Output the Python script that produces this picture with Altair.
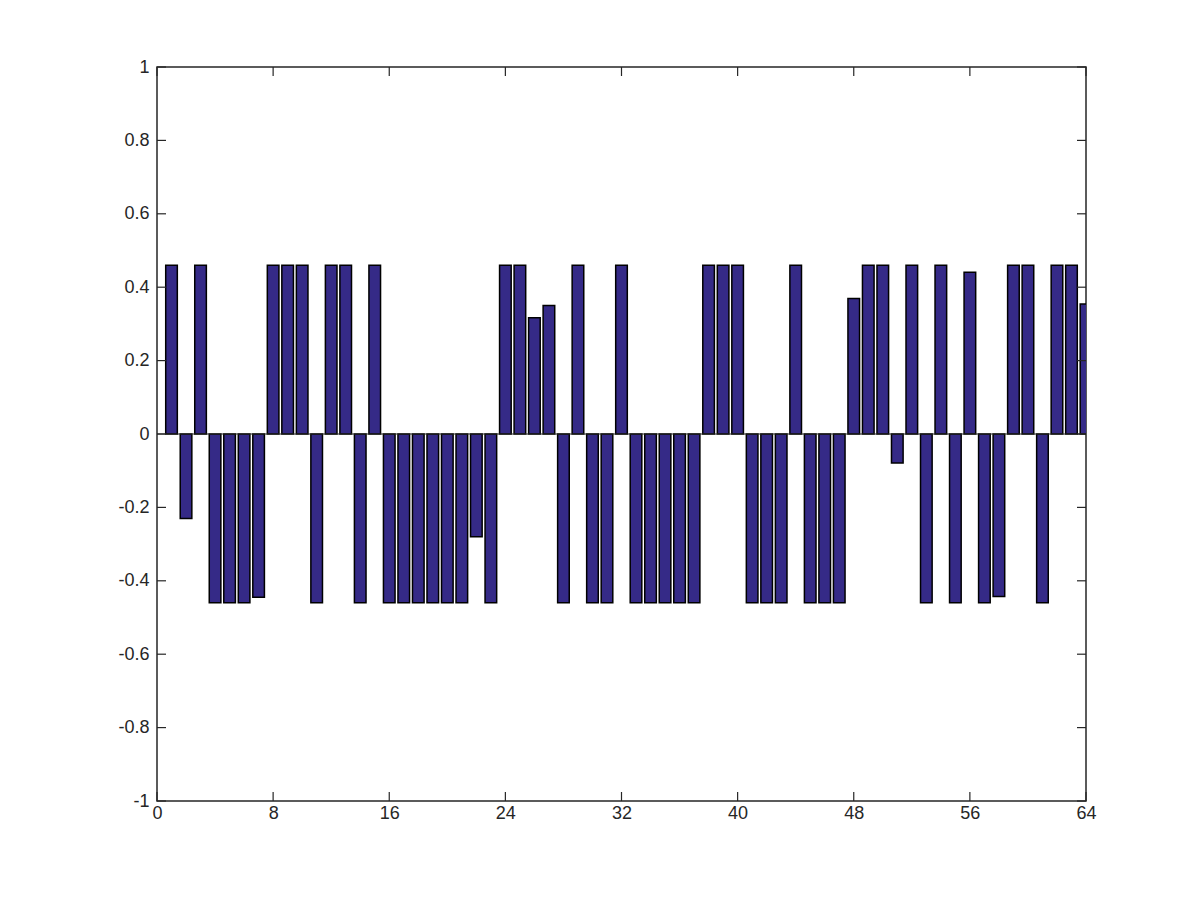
import altair as alt
import pandas as pd

idx = list(range(1, 65))
values = [
    0.46, -0.23, 0.46, -0.46, -0.46, -0.46, -0.445, 0.46,
    0.46, 0.46, -0.46, 0.46, 0.46, -0.46, 0.46, -0.46,
    -0.46, -0.46, -0.46, -0.46, -0.46, -0.28, -0.46, 0.46,
    0.46, 0.317, 0.35, -0.46, 0.46, -0.46, -0.46, 0.46,
    -0.46, -0.46, -0.46, -0.46, -0.46, 0.46, 0.46, 0.46,
    -0.46, -0.46, -0.46, 0.46, -0.46, -0.46, -0.46, 0.369,
    0.46, 0.46, -0.079, 0.46, -0.46, 0.46, -0.46, 0.441,
    -0.46, -0.443, 0.46, 0.46, -0.46, 0.46, 0.46, 0.354,
]
xticks = [0, 8, 16, 24, 32, 40, 48, 56, 64]
yticks = [-1, -0.8, -0.6, -0.4, -0.2, 0, 0.2, 0.4, 0.6, 0.8, 1]

W, H = 929, 734
TL = 9
INK = "#262626"
FONT = "Liberation Sans"
FS = 18

df = pd.DataFrame({"i": idx, "v": values})
xt = pd.DataFrame({"t": xticks})
yt = pd.DataFrame({"t": yticks})

xscale = alt.Scale(domain=[0, 64], nice=False, zero=False)
yscale = alt.Scale(domain=[-1, 1], nice=False, zero=False)

xaxis = alt.Axis(values=xticks, title=None, grid=False, domain=False, ticks=False,
                 labelFlush=False, labelPadding=3, labelFontSize=FS, labelColor=INK,
                 labelFont=FONT, labelExpr="format(datum.value, 'd')")
yaxis = alt.Axis(values=yticks, title=None, grid=False, domain=False, ticks=False,
                 labelFlush=False, labelPadding=8, labelFontSize=FS, labelColor=INK,
                 labelFont=FONT,
                 labelExpr="datum.value == 0 ? '0' : replace(format(datum.value, '.1~f'), '\u2212', '-')")

bars = alt.Chart(df).transform_calculate(
    x0="datum.i - 0.4", x1="datum.i + 0.4", base="0"
).mark_bar(color="#352a87", stroke="#000000", strokeWidth=1.5, clip=True).encode(
    x=alt.X("x0:Q", scale=xscale, axis=xaxis),
    x2="x1:Q",
    y=alt.Y("v:Q", scale=yscale, axis=yaxis),
    y2="base:Q",
)

baseline = alt.Chart(pd.DataFrame({"b": [0]})).mark_rule(color=INK, strokeWidth=1.2).encode(
    y=alt.Y("b:Q", scale=yscale, axis=yaxis), x=alt.value(0), x2=alt.value(W)
)

xb = alt.Chart(xt).mark_rule(color=INK, strokeWidth=1.2).encode(
    x=alt.X("t:Q", scale=xscale, axis=xaxis), y=alt.value(H), y2=alt.value(H - TL))
xtop = alt.Chart(xt).mark_rule(color=INK, strokeWidth=1.2).encode(
    x=alt.X("t:Q", scale=xscale, axis=xaxis), y=alt.value(0), y2=alt.value(TL))
yl = alt.Chart(yt).mark_rule(color=INK, strokeWidth=1.2).encode(
    y=alt.Y("t:Q", scale=yscale, axis=yaxis), x=alt.value(0), x2=alt.value(TL))
yr = alt.Chart(yt).mark_rule(color=INK, strokeWidth=1.2).encode(
    y=alt.Y("t:Q", scale=yscale, axis=yaxis), x=alt.value(W), x2=alt.value(W - TL))

chart = alt.layer(bars, baseline, xb, xtop, yl, yr).properties(
    width=W, height=H, padding={"left": 109, "top": 50, "right": 10, "bottom": 10}
).configure(background="white").configure_view(stroke=INK, strokeWidth=1.5).configure_axis(
    labelFontSize=FS, labelFont=FONT, labelColor=INK
)

chart.save("out.html", embed_options={"renderer": "svg", "actions": False})
